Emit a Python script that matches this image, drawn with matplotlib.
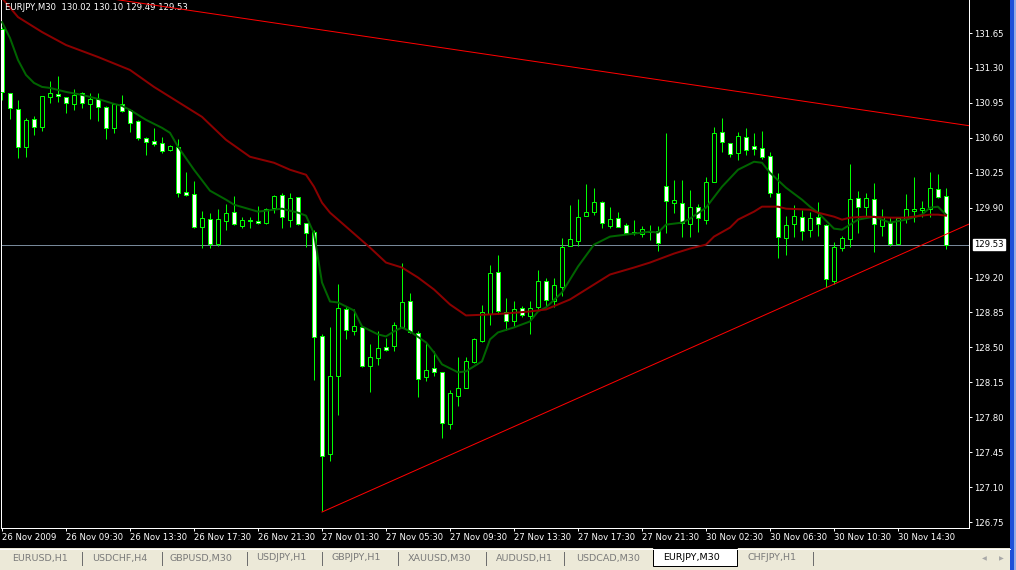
import matplotlib
matplotlib.use("Agg")
import matplotlib.pyplot as plt
import numpy as np
from matplotlib.patches import Rectangle

# EURJPY M30 bars, 26 Nov 2009 05:30 .. 30 Nov 2009 14:30
opens = [131.69, 131.05, 130.89, 130.51, 130.79, 130.71, 131.01, 131.04, 131.01, 130.94,
         131.05, 130.94, 130.99, 130.91, 130.70, 130.94, 130.88, 130.77, 130.60, 130.57,
         130.55, 130.48, 130.51, 130.06, 130.04, 129.71, 129.79, 129.54, 129.77, 129.86,
         129.72, 129.78, 129.77, 129.75, 129.90, 130.03, 129.78, 130.01, 129.75, 129.66,
         128.61, 127.43, 128.21, 128.88, 128.66, 128.70, 128.31, 128.39, 128.50, 128.51,
         128.70, 128.96, 128.64, 128.20, 128.29, 128.25, 127.73, 128.01, 128.09, 128.35,
         128.56, 128.83, 129.26, 128.85, 128.76, 128.89, 128.81, 128.90, 129.17, 128.96,
         129.11, 129.52, 129.57, 129.82, 129.86, 129.96, 129.72, 129.80, 129.73, 129.66,
         129.64, 129.66, 129.67, 130.12, 129.95, 129.95, 129.74, 129.91, 129.78, 130.16,
         130.66, 130.55, 130.45, 130.61, 130.52, 130.50, 130.42, 130.05, 129.60, 129.74,
         129.81, 129.68, 129.81, 129.73, 129.17, 129.50, 129.59, 130.00, 129.91, 129.99,
         129.72, 129.75, 129.54, 129.79, 129.87, 129.88, 129.89, 130.09, 130.02]
highs = [131.71, 131.05, 130.98, 130.80, 130.82, 131.02, 131.17, 131.22, 131.01, 131.09,
         131.06, 131.05, 131.05, 130.92, 130.95, 131.03, 130.89, 130.78, 130.61, 130.70,
         130.61, 130.53, 130.59, 130.26, 130.17, 129.87, 129.85, 129.89, 129.94, 130.02,
         129.81, 129.81, 129.92, 129.90, 130.03, 130.05, 130.05, 130.01, 129.75, 129.68,
         128.63, 128.70, 129.14, 128.91, 128.88, 128.71, 128.53, 128.66, 128.59, 128.75,
         129.35, 129.04, 128.66, 128.55, 128.46, 128.25, 128.07, 128.40, 128.40, 128.59,
         128.92, 129.33, 129.43, 128.99, 128.96, 128.91, 128.96, 129.28, 129.20, 129.20,
         129.60, 129.93, 129.99, 130.14, 130.10, 129.97, 129.91, 129.86, 129.75, 129.78,
         129.72, 129.73, 129.72, 130.65, 130.18, 130.18, 130.08, 129.94, 130.21, 130.71,
         130.80, 130.55, 130.66, 130.70, 130.65, 130.67, 130.46, 130.25, 129.82, 129.93,
         129.88, 129.86, 129.96, 129.74, 129.56, 129.62, 130.34, 130.07, 130.05, 130.15,
         129.89, 129.81, 129.81, 130.04, 130.21, 129.97, 130.26, 130.24, 130.10]
lows = [130.98, 130.79, 130.40, 130.41, 130.63, 130.67, 130.95, 130.96, 130.85, 130.88,
        130.90, 130.79, 130.77, 130.59, 130.65, 130.86, 130.66, 130.58, 130.43, 130.52,
        130.45, 130.47, 130.01, 130.02, 129.70, 129.50, 129.50, 129.52, 129.68, 129.73,
        129.70, 129.70, 129.74, 129.74, 129.85, 129.70, 129.71, 129.73, 129.51, 128.17,
        126.86, 127.36, 127.82, 128.58, 128.62, 128.30, 128.05, 128.32, 128.46, 128.46,
        128.69, 128.64, 128.00, 128.16, 128.21, 127.59, 127.68, 127.91, 128.09, 128.34,
        128.55, 128.72, 128.83, 128.67, 128.71, 128.80, 128.63, 128.88, 128.91, 128.90,
        129.01, 129.52, 129.52, 129.82, 129.83, 129.70, 129.70, 129.71, 129.65, 129.63,
        129.61, 129.58, 129.47, 129.65, 129.85, 129.61, 129.61, 129.66, 129.74, 130.16,
        130.46, 130.41, 130.38, 130.43, 130.43, 130.39, 130.01, 129.40, 129.43, 129.61,
        129.58, 129.61, 129.62, 129.11, 129.14, 129.47, 129.51, 129.65, 129.81, 129.46,
        129.62, 129.52, 129.54, 129.75, 129.76, 129.81, 129.81, 130.00, 129.49]
closes = [131.06, 130.90, 130.51, 130.78, 130.71, 131.02, 131.05, 131.02, 130.95, 131.03,
          130.95, 130.99, 130.91, 130.70, 130.94, 130.87, 130.75, 130.60, 130.56, 130.54,
          130.47, 130.52, 130.05, 130.03, 129.71, 129.80, 129.54, 129.79, 129.85, 129.74,
          129.78, 129.77, 129.75, 129.89, 130.02, 129.81, 130.00, 129.74, 129.65, 128.60,
          127.41, 128.21, 128.89, 128.67, 128.71, 128.31, 128.40, 128.49, 128.47, 128.72,
          128.95, 128.65, 128.18, 128.27, 128.25, 127.74, 128.04, 128.09, 128.36, 128.58,
          128.85, 129.25, 128.86, 128.76, 128.88, 128.82, 128.89, 129.17, 128.97, 129.13,
          129.51, 129.59, 129.81, 129.86, 129.96, 129.75, 129.79, 129.71, 129.65, 129.65,
          129.69, 129.66, 129.55, 129.97, 129.98, 129.75, 129.91, 129.80, 130.16, 130.65,
          130.56, 130.44, 130.62, 130.48, 130.49, 130.41, 130.05, 129.61, 129.73, 129.82,
          129.67, 129.80, 129.74, 129.19, 129.51, 129.60, 129.99, 129.91, 130.00, 129.74,
          129.81, 129.54, 129.80, 129.89, 129.89, 129.90, 130.10, 130.01, 129.53]

# moving averages (bar index, price)
fast_ma_bars = [0, 1, 2, 3, 4, 5, 6, 8, 10, 12, 14, 15, 16, 18, 20, 21, 22, 24, 26, 28,
                29, 32, 35, 37, 38, 39, 40, 41, 42, 44, 45, 47, 48, 49, 50, 51, 53, 54, 55, 57,
                58, 60, 61, 62, 64, 66, 67, 68, 70, 72, 74, 76, 78, 81, 82, 83, 85, 86, 88, 90,
                92, 94, 95, 96, 98, 100, 101, 102, 104, 105, 106, 107, 109, 111, 113, 115, 116, 117, 118]
fast_ma = [131.76, 131.60, 131.38, 131.23, 131.15, 131.11, 131.10, 131.06, 131.03, 130.99,
           130.94, 130.92, 130.88, 130.78, 130.70, 130.65, 130.51, 130.28, 130.07, 129.98,
           129.93, 129.86, 129.89, 129.85, 129.82, 129.64, 129.15, 128.96, 128.95, 128.87,
           128.71, 128.63, 128.61, 128.66, 128.70, 128.66, 128.55, 128.45, 128.33, 128.25,
           128.26, 128.36, 128.58, 128.65, 128.70, 128.76, 128.86, 128.90, 129.05, 129.31,
           129.53, 129.61, 129.63, 129.66, 129.65, 129.73, 129.75, 129.79, 129.90, 130.11,
           130.28, 130.36, 130.35, 130.25, 130.10, 129.98, 129.91, 129.85, 129.69, 129.68,
           129.73, 129.78, 129.81, 129.75, 129.78, 129.83, 129.90, 129.91, 129.83]
slow_ma_bars = [0, 2, 5, 8, 12, 16, 19, 21, 25, 28, 31, 34, 36, 38, 39, 40, 41, 43, 46, 48,
                50, 52, 54, 56, 58, 61, 63, 66, 68, 71, 74, 76, 79, 81, 84, 86, 88, 89, 91, 92,
                94, 95, 97, 98, 101, 102, 104, 105, 106, 108, 111, 113, 116, 117, 118]
slow_ma = [132.00, 131.81, 131.66, 131.53, 131.41, 131.28, 131.11, 131.01, 130.81, 130.58,
           130.41, 130.35, 130.28, 130.23, 130.11, 129.95, 129.85, 129.71, 129.50, 129.35,
           129.30, 129.20, 129.08, 128.93, 128.82, 128.83, 128.84, 128.86, 128.88, 128.98,
           129.13, 129.23, 129.30, 129.35, 129.44, 129.49, 129.53, 129.61, 129.70, 129.78,
           129.86, 129.91, 129.91, 129.89, 129.88, 129.85, 129.81, 129.78, 129.80, 129.81,
           129.80, 129.80, 129.83, 129.83, 129.82]

# trend lines (bar index, price)
upper_trend_bars = [0, 121]
upper_trend_prices = [132.155, 130.72]
lower_trend_bars = [40, 121]
lower_trend_prices = [126.85, 129.74]

bid_price = 129.53
price_ticks = [131.65, 131.30, 130.95, 130.60, 130.25, 129.90, 129.20,
               128.85, 128.50, 128.15, 127.80, 127.45, 127.10, 126.75]
time_labels = ["26 Nov 2009", "26 Nov 09:30", "26 Nov 13:30", "26 Nov 17:30", "26 Nov 21:30",
               "27 Nov 01:30", "27 Nov 05:30", "27 Nov 09:30", "27 Nov 13:30", "27 Nov 17:30",
               "27 Nov 21:30", "30 Nov 02:30", "30 Nov 06:30", "30 Nov 10:30", "30 Nov 14:30"]
tabs = ["EURUSD,H1", "USDCHF,H4", "GBPUSD,M30", "USDJPY,H1", "GBPJPY,H1",
        "XAUUSD,M30", "AUDUSD,H1", "USDCAD,M30", "EURJPY,M30", "CHFJPY,H1"]
active_tab = "EURJPY,M30"

W, H = 1016, 570
PX = 0.72  # one pixel in points at 100 dpi
LIME = "#00FF00"

fig = plt.figure(figsize=(W / 100, H / 100), dpi=100, facecolor="black")

# window chrome (pixel coordinates)
bg = fig.add_axes([0, 0, 1, 1], zorder=0)
bg.set_xlim(0, W)
bg.set_ylim(H, 0)
bg.axis("off")
bg.set_facecolor("black")
bg.add_patch(Rectangle((0, 548), W, 22, color="#ECE9D8", lw=0))
bg.plot([0, 1010], [548.5, 548.5], color="#FFFFFF", lw=PX)
tab_x = [12, 92, 170, 256, 332, 408, 496, 576, 663, 747]
sep_x = [82, 162, 247, 322, 398, 486, 564, 813]
for name, x in zip(tabs, tab_x):
    if name == active_tab:
        bg.add_patch(Rectangle((653, 548), 84, 18, facecolor="white", edgecolor="black", lw=PX))
        bg.text(x, 558, name, color="black", fontsize=6.8, va="center")
    else:
        bg.text(x, 558, name, color="#7A7A7A", fontsize=6.8, va="center")
for x in sep_x:
    bg.plot([x, x], [552, 565], color="#6E6E6E", lw=PX)
bg.text(984, 559, "\u25c0", color="#A8A8A8", fontsize=4.5, ha="center", va="center")
bg.text(1001, 559, "\u25b6", color="#A8A8A8", fontsize=4.5, ha="center", va="center")
bg.add_patch(Rectangle((1010, 0), 4, H, color="#1F4FD8", lw=0))
bg.add_patch(Rectangle((1014, 0), 2, H, color="#8FAAE8", lw=0))

# price chart
ax = fig.add_axes([1 / W, 1 - 528 / H, 968 / W, 528 / H], zorder=1)
ax.set_facecolor("black")
ax.set_xlim(-0.125, 120.875)
ax.set_ylim(126.69, 131.981)

idx = np.arange(len(opens))
o = np.array(opens)
c = np.array(closes)
ax.axhline(bid_price, color="#778899", lw=PX, zorder=1)
ax.vlines(idx, lows, highs, color=LIME, lw=PX, zorder=2)
body_low = np.minimum(o, c)
body_h = np.maximum(np.abs(c - o), 0.002)
fills = np.where(c < o, "white", "black")
ax.bar(idx, body_h, bottom=body_low, width=0.5, color=fills, edgecolor=LIME,
       linewidth=PX, zorder=3)

ax.plot(fast_ma_bars, fast_ma, color="#006400", lw=2 * PX, zorder=4)
ax.plot(slow_ma_bars, slow_ma, color="#8B0000", lw=2 * PX, zorder=4)
ax.plot(upper_trend_bars, upper_trend_prices, color="#FF0000", lw=PX, zorder=5)
ax.plot(lower_trend_bars, lower_trend_prices, color="#FF0000", lw=PX, zorder=5)

ax.text(4 / 968, 1 - 7 / 528, "EURJPY,M30  130.02 130.10 129.49 129.53",
        transform=ax.transAxes, color="white", fontsize=6.1, va="center", zorder=4.5)

for side in ["left", "right", "bottom"]:
    ax.spines[side].set_color("white")
    ax.spines[side].set_linewidth(PX)
ax.spines["top"].set_visible(False)

ax.yaxis.tick_right()
ax.set_yticks(price_ticks)
ax.set_yticklabels(["%.2f" % p for p in price_ticks])
ax.tick_params(axis="y", colors="white", length=3 * PX, width=PX, labelsize=6.1, pad=1.5)
ax.set_xticks(np.arange(0, 8 * len(time_labels), 8))
ax.set_xticklabels(time_labels, ha="left")
ax.tick_params(axis="x", colors="white", length=3 * PX, width=PX, labelsize=6.1, pad=1.5)

ax.annotate("%.2f" % bid_price, xy=(1.0, bid_price), xycoords=("axes fraction", "data"),
            xytext=(3.5, 0), textcoords="offset points", color="black", fontsize=6.1,
            va="center", ha="left", annotation_clip=False,
            bbox=dict(boxstyle="square,pad=0.15", facecolor="white", edgecolor="white"))

fig.savefig("out.png", dpi=100, facecolor="black")
